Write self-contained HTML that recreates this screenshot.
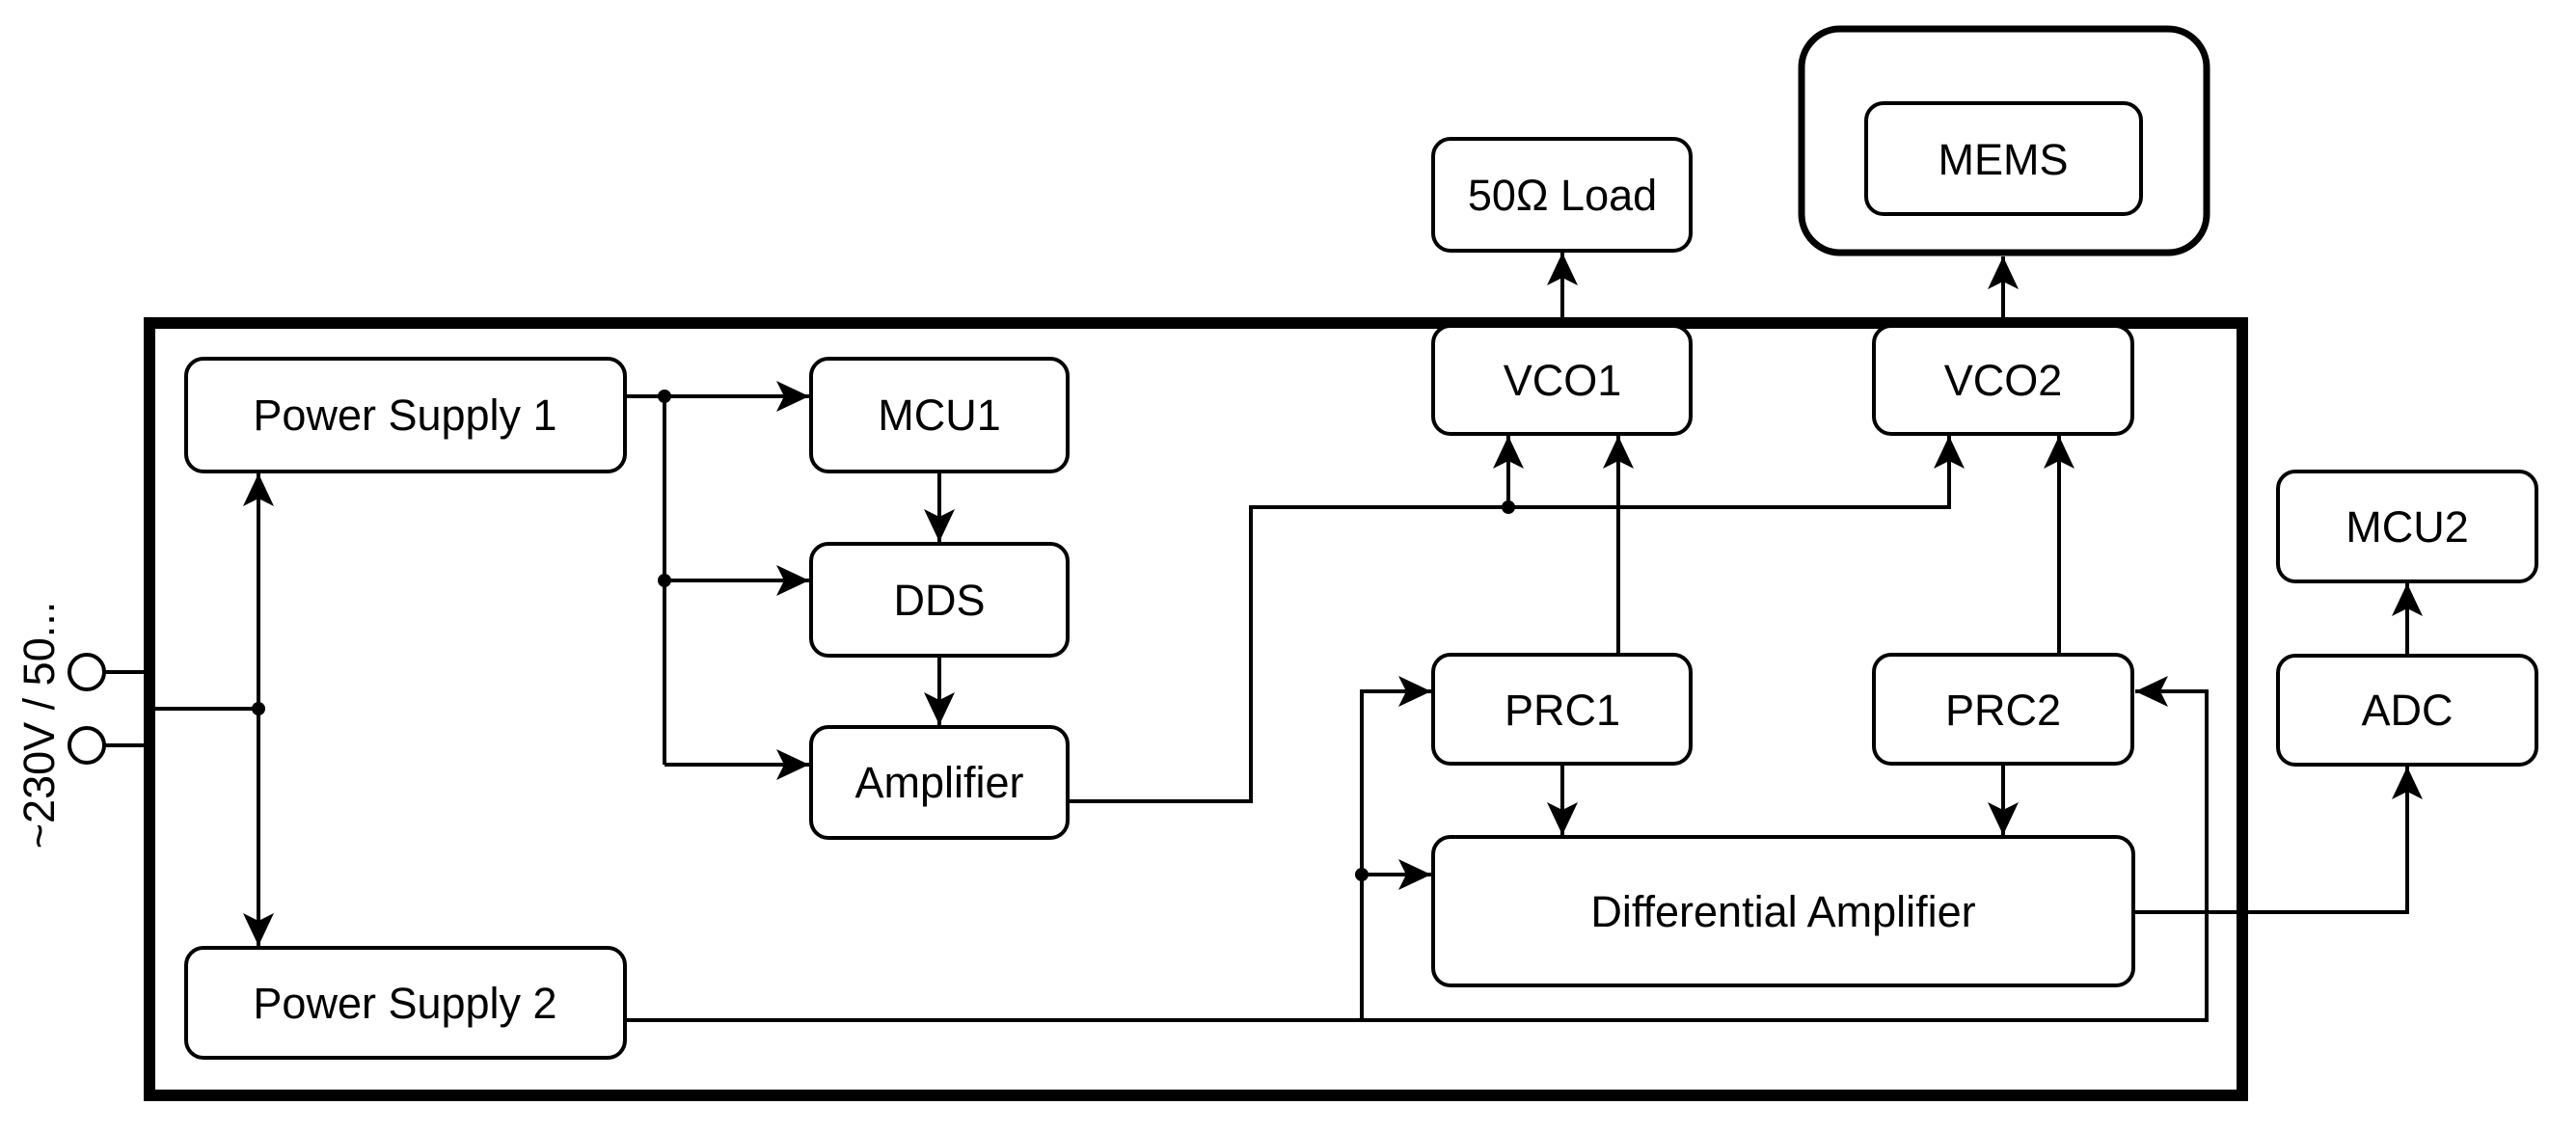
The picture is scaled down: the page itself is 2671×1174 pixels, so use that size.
<!DOCTYPE html>
<html><head><meta charset="utf-8"><style>
html,body{margin:0;padding:0;background:#fff;}
svg{display:block;}
text{font-family:"Liberation Sans",Arial,sans-serif;font-size:45px;fill:#000;text-anchor:middle;}
</style></head><body>
<svg width="2671" height="1174" viewBox="0 0 2671 1174" xmlns="http://www.w3.org/2000/svg">
<defs>
<marker id="a" markerUnits="userSpaceOnUse" markerWidth="36" markerHeight="36" viewBox="0 0 36 36" refX="34" refY="18" orient="auto">
<path d="M0,2 L34,18 L0,34 L8,18 Z" fill="#000"/>
</marker>
</defs>
<rect width="2671" height="1174" fill="#fff"/>
<rect x="155" y="335" width="2170" height="801" fill="none" stroke="#000" stroke-width="12"/>
<rect x="1868" y="30" width="420" height="232" rx="40" fill="#fff" stroke="#000" stroke-width="7"/>
<g fill="#fff" stroke="#000" stroke-width="4">
<rect x="193" y="372" width="455" height="117" rx="18"/>
<rect x="841" y="372" width="266" height="117" rx="18"/>
<rect x="841" y="564" width="266" height="116" rx="18"/>
<rect x="841" y="754" width="266" height="115" rx="18"/>
<rect x="193" y="983" width="455" height="114" rx="18"/>
<rect x="1486" y="144" width="267" height="116" rx="18"/>
<rect x="1935" y="107" width="285" height="115" rx="18"/>
<rect x="1486" y="338" width="267" height="112" rx="18"/>
<rect x="1943" y="338" width="268" height="112" rx="18"/>
<rect x="1486" y="679" width="267" height="113" rx="18"/>
<rect x="1943" y="679" width="268" height="113" rx="18"/>
<rect x="1486" y="868" width="726" height="154" rx="18"/>
<rect x="2362" y="489" width="268" height="114" rx="18"/>
<rect x="2362" y="680" width="268" height="113" rx="18"/>
</g>
<g fill="none" stroke="#000" stroke-width="4">
<circle cx="90" cy="697" r="18"/>
<circle cx="90" cy="773" r="18"/>
<path d="M108,697 H155 M108,773 H155 M155,735 H268"/>
<path d="M268,735 V491" marker-end="url(#a)"/>
<path d="M268,735 V981" marker-end="url(#a)"/>
<path d="M648,411 H839" marker-end="url(#a)"/>
<path d="M689,411 V793"/>
<path d="M689,602 H839" marker-end="url(#a)"/>
<path d="M689,793 H839" marker-end="url(#a)"/>
<path d="M974,489 V562" marker-end="url(#a)"/>
<path d="M974,680 V752" marker-end="url(#a)"/>
<path d="M1107,831 H1297 V526 H2021 V452" marker-end="url(#a)"/>
<path d="M1564,526 V452" marker-end="url(#a)"/>
<path d="M1678,679 V452" marker-end="url(#a)"/>
<path d="M2135,679 V452" marker-end="url(#a)"/>
<path d="M1620,338 V262" marker-end="url(#a)"/>
<path d="M2077,338 V266" marker-end="url(#a)"/>
<path d="M1620,792 V866" marker-end="url(#a)"/>
<path d="M2077,792 V866" marker-end="url(#a)"/>
<path d="M648,1058 H2288 V717 H2214" marker-end="url(#a)"/>
<path d="M1412,1058 V717 H1484" marker-end="url(#a)"/>
<path d="M1412,907 H1484" marker-end="url(#a)"/>
<path d="M2212,946 H2496 V795" marker-end="url(#a)"/>
<path d="M2496,680 V605" marker-end="url(#a)"/>
</g>
<g fill="#000">
<circle cx="268" cy="735" r="7"/>
<circle cx="689" cy="411" r="7"/>
<circle cx="689" cy="602" r="7"/>
<circle cx="1564" cy="526" r="7"/>
<circle cx="1412" cy="907" r="7"/>
</g>
<text x="420" y="446">Power Supply 1</text>
<text x="974" y="446">MCU1</text>
<text x="974" y="638">DDS</text>
<text x="974" y="827">Amplifier</text>
<text x="420" y="1056">Power Supply 2</text>
<text x="1620" y="218">50Ω Load</text>
<text x="2077" y="181">MEMS</text>
<text x="1620" y="410">VCO1</text>
<text x="2077" y="410">VCO2</text>
<text x="1620" y="752">PRC1</text>
<text x="2077" y="752">PRC2</text>
<text x="1849" y="961">Differential Amplifier</text>
<text x="2496" y="562">MCU2</text>
<text x="2496" y="752">ADC</text>
<text x="0" y="0" transform="translate(56,752) rotate(-90)">~230V / 50...</text>
</svg>
</body></html>
